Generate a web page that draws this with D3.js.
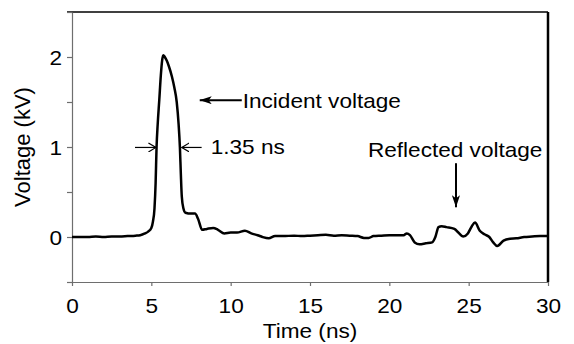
<!DOCTYPE html>
<html>
<head>
<meta charset="utf-8">
<script src="https://cdn.jsdelivr.net/npm/d3@7"></script>
<style>
  body { margin: 0; background: #fff; }
  svg { display: block; font-family: "Liberation Sans", Arial, sans-serif; }
</style>
</head>
<body>
<div id="plot"></div>
<script>
// time (ns) and voltage (kV)
var times = [0, 0.5, 1, 1.5, 2, 2.5, 3, 3.5, 4, 4.3, 4.6, 4.8, 5.0, 5.1, 5.2, 5.27, 5.33, 5.4, 5.5, 5.6, 5.68, 5.75,
  5.85, 5.97, 6.1, 6.3, 6.45, 6.6, 6.72, 6.8, 6.86, 6.92, 7.02, 7.15, 7.5, 7.75, 7.95, 8.2, 8.5, 8.9, 9.2, 9.6,
  10.0, 10.4, 10.9, 11.3, 11.7, 12.0, 12.4, 12.8, 13.3, 14.0, 14.5, 15.0, 15.5, 16.0, 16.5, 17.0, 17.5, 18.0,
  18.4, 18.7, 19.0, 19.5, 20.0, 20.5, 20.9, 21.1, 21.3, 21.6, 21.9, 22.3, 22.7, 22.9, 23.1, 23.3, 23.6, 24.1,
  24.35, 24.65, 24.95, 25.2, 25.4, 25.7, 26.0, 26.3, 26.55, 26.8, 27.2, 27.6, 28.0, 28.5, 29.0, 29.5, 30]
var volts = [0, 0, 0, 0.005, 0, 0.005, 0.005, 0.01, 0.015, 0.02, 0.04, 0.06, 0.1, 0.17, 0.32, 0.6, 1.0, 1.25, 1.52, 1.8, 1.96, 2.02,
  2.0, 1.96, 1.9, 1.78, 1.66, 1.5, 1.25, 1.0, 0.7, 0.45, 0.32, 0.27, 0.26, 0.26, 0.2, 0.08, 0.09, 0.1, 0.08, 0.04,
  0.05, 0.05, 0.07, 0.04, 0.02, 0.0, -0.015, 0.01, 0.01, 0.015, 0.01, 0.015, 0.02, 0.025, 0.015, 0.02, 0.015, 0.01,
  -0.01, -0.01, 0.01, 0.015, 0.02, 0.02, 0.02, 0.04, 0.02, -0.06, -0.08, -0.07, -0.06, 0.0, 0.11, 0.12, 0.11, 0.09,
  0.05, 0.005, 0.04, 0.12, 0.16, 0.07, 0.03, 0.0, -0.06, -0.1, -0.04, -0.02, -0.015, 0.0, 0.005, 0.01, 0.01]

var xTicks = [0, 5, 10, 15, 20, 25, 30]
var yTicks = [-0.5, 0, 0.5, 1, 1.5, 2, 2.5]
var yLabelled = [0, 1, 2]

var width = 574, height = 344
var stretch = 'scale(1.13,1.05)'

var svg = d3.select('#plot').append('svg')
  .attr('width', width)
  .attr('height', height)

var x = d3.scaleLinear().domain([0, 30]).range([72, 548])
var y = d3.scaleLinear().domain([-0.5, 2.5]).range([282, 12])

// frame: black top + thick right
svg.append('line')
  .attr('x1', x(0) - 5).attr('x2', x(30))
  .attr('y1', y(2.5)).attr('y2', y(2.5))
  .attr('stroke', '#000').attr('stroke-width', 1.3)
svg.append('line')
  .attr('x1', x(30)).attr('x2', x(30))
  .attr('y1', y(2.5)).attr('y2', y(-0.5))
  .attr('stroke', '#000').attr('stroke-width', 2.5)

// axes
var gx = svg.append('g')
  .attr('transform', 'translate(0,' + y(-0.5) + ')')
  .call(d3.axisBottom(x).tickValues(xTicks).tickSize(4).tickSizeOuter(0))
var gy = svg.append('g')
  .attr('transform', 'translate(' + x(0) + ',0)')
  .call(d3.axisLeft(y).tickValues(yTicks).tickSize(5).tickSizeOuter(0)
    .tickFormat(d => yLabelled.includes(d) ? d : ''))

svg.selectAll('.domain, .tick line').attr('stroke', '#6e6e6e').attr('stroke-width', 1.2)
svg.selectAll('.tick text').attr('fill', '#000').style('font-size', '20px')

gx.selectAll('.tick text')
  .attr('y', 0).attr('dy', null)
  .attr('transform', 'translate(0,31) ' + stretch)
gy.selectAll('.tick text')
  .attr('x', 0).attr('dy', null)
  .attr('transform', 'translate(-10,7) ' + stretch)

// axis titles
svg.append('text')
  .attr('transform', 'translate(' + ((x(0) + x(30)) / 2) + ',338) ' + stretch)
  .attr('text-anchor', 'middle')
  .style('font-size', '20px')
  .text('Time (ns)')
svg.append('text')
  .attr('transform', 'translate(29.5,' + ((y(-0.5) + y(2.5)) / 2) + ') rotate(-90) scale(1.1,1.13)')
  .attr('text-anchor', 'middle')
  .style('font-size', '20px')
  .text('Voltage (kV)')

// trace
var line = d3.line()
  .x((d, i) => x(times[i]))
  .y(d => y(d))
  .curve(d3.curveMonotoneX)

svg.append('path')
  .datum(volts)
  .attr('d', line)
  .attr('fill', 'none')
  .attr('stroke', '#000')
  .attr('stroke-width', 2.5)
  .attr('stroke-linejoin', 'round')

// arrow heads
var defs = svg.append('defs')
defs.append('marker')
  .attr('id', 'solid')
  .attr('viewBox', '0 0 12 8')
  .attr('refX', 12).attr('refY', 4)
  .attr('markerWidth', 12).attr('markerHeight', 8)
  .attr('markerUnits', 'userSpaceOnUse')
  .attr('orient', 'auto')
  .append('path').attr('d', 'M0,0 L12,4 L0,8 L3,4 Z').attr('fill', '#000')
defs.append('marker')
  .attr('id', 'open')
  .attr('viewBox', '0 0 8 10')
  .attr('refX', 7.5).attr('refY', 5)
  .attr('markerWidth', 8).attr('markerHeight', 10)
  .attr('markerUnits', 'userSpaceOnUse')
  .attr('orient', 'auto')
  .append('path').attr('d', 'M0,0.5 L7.5,5 L0,9.5').attr('fill', 'none').attr('stroke', '#000').attr('stroke-width', 1.2)

function arrow(t1, v1, t2, v2, head, w) {
  svg.append('line')
    .attr('x1', x(t1)).attr('y1', y(v1))
    .attr('x2', x(t2)).attr('y2', y(v2))
    .attr('stroke', '#000').attr('stroke-width', w)
    .attr('marker-end', 'url(#' + head + ')')
}
function label(t, v, s) {
  svg.append('text')
    .attr('transform', 'translate(' + x(t) + ',' + y(v) + ') ' + stretch)
    .style('font-size', '20px')
    .text(s)
}

// annotations
arrow(10.7, 1.52, 8.05, 1.52, 'solid', 2)
label(10.76, 1.433, 'Incident voltage')

arrow(3.97, 0.995, 5.29, 0.995, 'open', 1.2)
arrow(8.17, 0.995, 6.92, 0.995, 'open', 1.2)
label(8.74, 0.92, '1.35 ns')

label(18.65, 0.89, 'Reflected voltage')
arrow(24.2, 0.82, 24.2, 0.33, 'solid', 2)
</script>
</body>
</html>
